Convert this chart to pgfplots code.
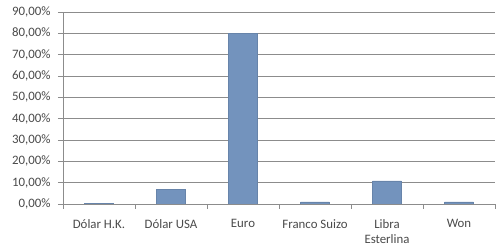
\documentclass[border=0pt]{standalone}
\usepackage{pgfplots}
\pgfplotsset{compat=1.18}
\usepackage{fontspec}
\setmainfont{Carlito}
\definecolor{txt}{HTML}{4A4A4A}
\definecolor{gridc}{HTML}{8C8C8C}
\definecolor{barc}{HTML}{7393BD}
\begin{document}
\begin{tikzpicture}
\begin{axis}[
  name=ax,
  scale only axis,
  width=432bp, height=192bp,
  xmin=-0.5, xmax=5.5,
  ymin=0, ymax=90,
  axis lines*=left,
  axis line style={gridc, line width=0.8pt},
  xtick={0,1,2,3,4,5},
  xticklabels={Dólar H.K., Dólar USA, Euro, Franco Suizo, Libra\\Esterlina, Won},
  major x tick style={draw=none},
  minor xtick={-0.5,0.5,1.5,2.5,3.5,4.5,5.5},
  minor x tick style={gridc, line width=0.8pt},
  minor tick length=5bp,
  ytick={0,10,...,90},
  yticklabels={{0,00\%},{10,00\%},{20,00\%},{30,00\%},{40,00\%},{50,00\%},{60,00\%},{70,00\%},{80,00\%},{90,00\%}},
  major tick length=5bp,
  tick align=outside,
  y tick style={gridc, line width=0.8pt},
  ymajorgrids,
  major grid style={gridc, line width=0.8pt},
  tick label style={font=\fontsize{12.9}{15}\selectfont, text=txt},
  x tick label style={align=center, yshift=-7bp},
  y tick label style={xshift=-4bp},
  tick pos=left,
]
\addplot[ybar, bar width=0.4, fill=barc, draw=barc!90!black, line width=0.3pt]
  coordinates {(0,0.3) (1,7.0) (2,80.1) (3,1.0) (4,10.8) (5,1.0)};
\end{axis}
\pgfresetboundingbox
\path ([shift={(-63bp,-45bp)}]ax.south west) rectangle ([shift={(9bp,12bp)}]ax.north east);
\end{tikzpicture}
\end{document}
